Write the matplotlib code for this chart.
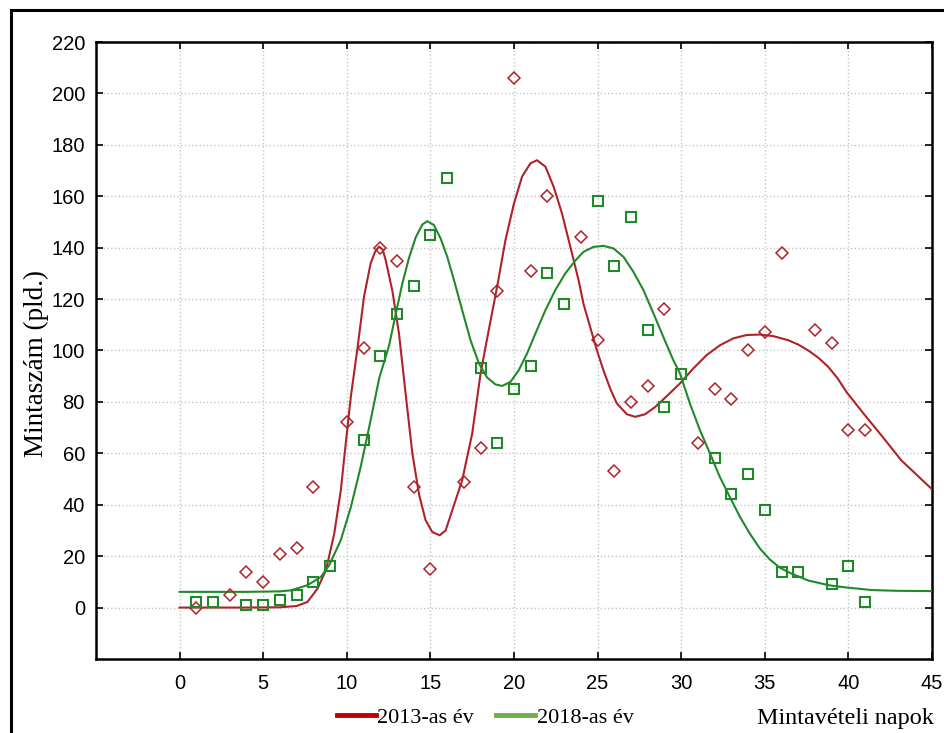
import matplotlib
matplotlib.use('Agg')
import matplotlib.pyplot as plt
from matplotlib.patches import Rectangle
from matplotlib.lines import Line2D

# mintavételi napok és egyedszámok (2013)
nap_2013 = [1, 3, 4, 5, 6, 7, 8, 10, 11, 12, 13, 14, 15, 17, 18, 19, 20, 21, 22,
            24, 25, 26, 27, 28, 29, 31, 32, 33, 34, 35, 36, 38, 39, 40, 41]
db_2013 = [0, 5, 14, 10, 21, 23, 47, 72, 101, 140, 135, 47, 15, 49, 62, 123, 206, 131, 160,
           144, 104, 53, 80, 86, 116, 64, 85, 81, 100, 107, 138, 108, 103, 69, 69]

# mintavételi napok és egyedszámok (2018)
nap_2018 = [1, 2, 4, 5, 6, 7, 8, 9, 11, 12, 13, 14, 15, 16, 18, 19, 20, 21, 22,
            23, 25, 26, 27, 28, 29, 30, 32, 33, 34, 35, 36, 37, 39, 40, 41]
db_2018 = [2, 2, 1, 1, 3, 5, 10, 16, 65, 98, 114, 125, 145, 167, 93, 64, 85, 94, 130,
           118, 158, 133, 152, 108, 78, 91, 58, 44, 52, 38, 14, 14, 9, 16, 2]

# illesztett görbék
gorbe_x_2013 = [0, 2, 4, 6, 7, 7.65, 8.25, 8.75, 9.25, 9.64, 10, 10.24, 10.64, 11.03, 11.43,
                11.7, 11.93, 12.15, 12.33, 12.73, 13.12, 13.52, 13.92, 14.32, 14.71, 15.11,
                15.55, 15.91, 16.31, 16.9, 17.5, 18.0, 18.49, 18.99, 19.49, 19.99, 20.48,
                20.98, 21.38, 21.88, 22.37, 22.87, 23.37, 23.86, 24.16, 24.56, 24.96, 25.35,
                25.75, 26.15, 26.75, 27.24, 27.84, 28.44, 29.13, 29.93, 30.72, 31.52, 32.31,
                33.11, 33.9, 34.7, 35.5, 36.4, 37.0, 37.6, 38.2, 38.8, 39.35, 39.88, 40.9,
                41.97, 43.16, 45]
gorbe_y_2013 = [0, 0, 0, 0.1, 0.6, 2.2, 7.4, 14.5, 28.8, 45.6, 67.7, 82, 101, 121, 134,
                138.5, 140.4, 139.2, 135, 123, 106.6, 83, 60, 44, 34, 29.4,
                28.1, 30, 37.9, 49.5, 67.7, 91, 108, 124.8, 143, 157, 167.6,
                172.8, 174, 171.5, 163.7, 153.3, 140.3, 127.4, 118, 109, 100, 92.3,
                85.2, 79.4, 75.2, 74.2, 75.2, 78, 82.2, 87.2, 93, 98.2, 102,
                104.7, 106, 106.2, 105.6, 104, 102.3, 100, 97.2, 93.6, 89.2, 83.9, 75.5,
                67, 57.3, 46]

gorbe_x_2018 = [0, 2, 4, 6, 6.66, 7.65, 8.45, 8.95, 9.64, 10.24, 10.83, 11.43, 11.93, 12.53,
                12.92, 13.32, 13.72, 14.12, 14.52, 14.81, 15.21, 15.61, 16.01, 16.41, 16.9,
                17.4, 17.9, 18.39, 18.89, 19.29, 19.79, 20.28, 20.78, 21.28, 21.88, 22.47,
                23.07, 23.67, 24.16, 24.76, 25.35, 25.95, 26.55, 27.14, 27.74, 28.34, 28.93,
                29.53, 29.93, 30.52, 31.12, 31.72, 32.31, 32.91, 33.51, 34.1, 34.7, 35.3,
                35.9, 36.5, 37.6, 38.9, 39.88, 41.4, 43, 45]
gorbe_y_2018 = [6.1, 6.1, 6.1, 6.3, 6.7, 8.7, 11.9, 16.5, 26.2, 39, 54.7, 73, 89, 102,
                114, 126, 136, 144, 149, 150.3, 148.8, 143.6, 136.4, 127.4, 115.7,
                104, 95, 89.5, 86.8, 86.2, 87.8, 92.3, 98.8, 106.6, 115.7, 123.5,
                130, 135, 138.4, 140.3, 140.7, 139.7, 136.4, 130.6, 123.5, 114.4, 105.3,
                96.2, 91, 79.4, 69, 60, 50.8, 43, 35.3, 28.8, 23, 18.7,
                15.5, 13.5, 10.5, 8.6, 7.8, 6.8, 6.5, 6.4]

x_ticks = [0, 5, 10, 15, 20, 25, 30, 35, 40, 45]
y_ticks = [0, 20, 40, 60, 80, 100, 120, 140, 160, 180, 200, 220]

piros = '#b0222a'
zold = '#22892a'

fig = plt.figure(figsize=(9.44, 7.33), dpi=100)
ax = fig.add_axes([0.1017, 0.101, 0.8856, 0.8417])

# görbék
ax.plot(gorbe_x_2013, gorbe_y_2013, color=piros, lw=1.5, zorder=3)
ax.plot(gorbe_x_2018, gorbe_y_2018, color=zold, lw=1.5, zorder=3)

# mért pontok
ax.plot(nap_2013, db_2013, 'D', ms=6, mfc='none', mec=piros, mew=1.1, zorder=4)
ax.plot(nap_2018, db_2018, 's', ms=6.8, mfc='none', mec=zold, mew=1.5, zorder=4)

ax.set_xlim(-5, 45)
ax.set_ylim(-20, 220)
ax.set_xticks(x_ticks)
ax.set_yticks(y_ticks)
ax.grid(True, color='#c4c4c4', linestyle=':', linewidth=1.0)
ax.tick_params(direction='in', top=True, right=True, length=5, width=1.2,
               labelsize=14.5, colors='black')
ax.tick_params(axis='x', pad=11)
ax.tick_params(axis='y', pad=8)
for t in ax.get_xticklabels() + ax.get_yticklabels():
    t.set_family('Liberation Sans')
for s in ax.spines.values():
    s.set_linewidth(1.8)

# tengelyfeliratok
fig.text(0.039, 0.504, 'Mintaszám (pld.)', rotation=90, ha='center', va='center',
         family='Liberation Serif', fontsize=19.5)
fig.text(0.8957, 0.02, 'Mintavételi napok', ha='center', va='center',
         family='Liberation Serif', fontsize=17.4)

# jelmagyarázat
kezelok = [Line2D([], [], color='#c00000', lw=3.5), Line2D([], [], color='#70ad47', lw=3.5)]
fig.legend(kezelok, ['2013-as év', '2018-as év'], loc='center', bbox_to_anchor=(0.514, 0.021),
           ncol=2, frameon=False, handlelength=1.75, handletextpad=0.08, columnspacing=1.0,
           borderpad=0, prop={'family': 'Liberation Serif', 'size': 16})

# keret a teljes ábra körül
fig.patches.append(Rectangle((11 / 944, -0.05), 1.2, 1 - 10 / 733 + 0.05, transform=fig.transFigure,
                             fill=False, edgecolor='black', linewidth=2.2))

fig.savefig('out.png', dpi=100)
